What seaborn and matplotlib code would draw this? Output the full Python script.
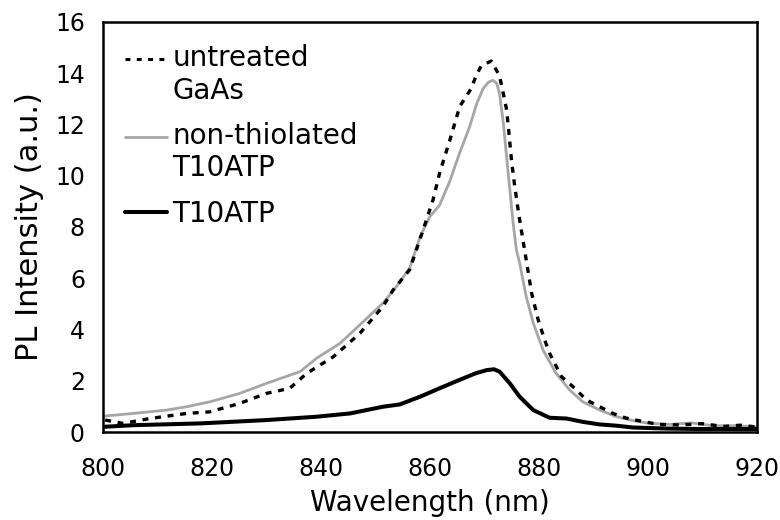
import numpy as np
import pandas as pd
import matplotlib
matplotlib.use("Agg")
import matplotlib.pyplot as plt
from matplotlib.lines import Line2D
from matplotlib.legend_handler import HandlerLine2D
import seaborn as sns

# ---------------- data ----------------
wl_untreated = [800.4, 803.7, 808.6, 815.4, 819.6, 825.1, 830.0, 834.3, 837.4, 842.3,
                847.2, 851.4, 853.3, 856.3, 858.8, 860.6, 861.8, 863.7, 865.5, 867.6,
                868.6, 869.5, 871.3, 872.8, 873.5, 874.1, 874.6, 875.0, 875.6, 876.4,
                877.1, 877.7, 878.7, 879.9, 881.1, 882.0, 884.2, 886.3, 888.8, 891.2,
                893.6, 896.0, 898.5, 902.0, 906.0, 910.0, 914.0, 917.0, 920.0]
pl_untreated = [0.47, 0.34, 0.53, 0.73, 0.79, 1.12, 1.51, 1.71, 2.29, 2.94,
                3.86, 4.90, 5.55, 6.33, 7.90, 9.06, 10.1, 11.4, 12.7, 13.4,
                13.95, 14.3, 14.47, 13.9, 13.2, 12.58, 11.5, 10.6, 9.58, 8.41,
                7.5, 6.72, 5.42, 4.38, 3.59, 3.07, 2.16, 1.77, 1.25, 0.99,
                0.73, 0.55, 0.44, 0.30, 0.28, 0.33, 0.22, 0.27, 0.20]

wl_nonthiol = [800.0, 805.6, 811.7, 815.4, 819.6, 825.1, 830.0, 836.2, 839.2, 843.5,
               847.8, 851.4, 853.9, 856.3, 858.2, 860.0, 861.8, 863.7, 865.5, 867.3,
               868.6, 869.8, 870.8, 871.6, 872.3, 872.8, 873.5, 874.1, 874.7, 875.3,
               875.9, 876.5, 877.7, 879.0, 880.8, 883.2, 885.7, 888.1, 891.2, 894.3,
               897.3, 900.0, 904.0, 908.0, 912.0, 916.0, 920.0]
pl_nonthiol = [0.62, 0.73, 0.86, 0.99, 1.18, 1.51, 1.90, 2.36, 2.88, 3.46,
               4.31, 5.03, 5.68, 6.40, 7.60, 8.40, 8.85, 9.80, 10.9, 11.9,
               12.8, 13.4, 13.65, 13.72, 13.6, 13.2, 12.06, 10.75, 9.45, 8.15,
               7.11, 6.59, 5.29, 4.25, 3.20, 2.29, 1.64, 1.18, 0.86, 0.60,
               0.45, 0.35, 0.30, 0.36, 0.25, 0.25, 0.20]

wl_t10atp = [800.4, 805.6, 817.9, 830.0, 839.2, 845.4, 851.4, 854.5, 858.2, 861.8,
             865.5, 868.5, 870.5, 871.8, 872.8, 874.7, 876.5, 879.0, 882.0, 885.1,
             888.1, 891.2, 894.3, 897.3, 903.4, 910.0, 920.0]
pl_t10atp = [0.21, 0.27, 0.34, 0.47, 0.60, 0.73, 0.99, 1.08, 1.38, 1.71,
             2.04, 2.30, 2.42, 2.45, 2.36, 1.90, 1.38, 0.86, 0.56, 0.53,
             0.40, 0.30, 0.25, 0.18, 0.14, 0.12, 0.12]

labels = ["untreated\nGaAs", "non-thiolated\nT10ATP", "T10ATP"]
x_ticks = [800, 820, 840, 860, 880, 900, 920]
y_ticks = [0, 2, 4, 6, 8, 10, 12, 14, 16]

# ---------------- styling ----------------
sns.set_theme(style="white")
plt.rcParams["font.family"] = ["DejaVu Sans"]
plt.rcParams["text.color"] = "black"
plt.rcParams["axes.labelcolor"] = "black"
plt.rcParams["xtick.color"] = "black"
plt.rcParams["ytick.color"] = "black"

GRAY = "#a6a6a6"
DASH = (0, (1.8, 2.0))

fig = plt.figure(figsize=(7.8, 5.2), dpi=100)
ax = fig.add_axes([0.132, 0.169, 0.838, 0.789])

df_u = pd.DataFrame({"wl": wl_untreated, "pl": pl_untreated})
df_n = pd.DataFrame({"wl": wl_nonthiol, "pl": pl_nonthiol})
df_t = pd.DataFrame({"wl": wl_t10atp, "pl": pl_t10atp})

sns.lineplot(data=df_n, x="wl", y="pl", ax=ax, color=GRAY, lw=2.0,
             sort=False, estimator=None, zorder=2)
sns.lineplot(data=df_u, x="wl", y="pl", ax=ax, color="black", lw=2.4,
             linestyle=DASH, sort=False, estimator=None, zorder=3)
sns.lineplot(data=df_t, x="wl", y="pl", ax=ax, color="black", lw=2.9,
             sort=False, estimator=None, zorder=4)

ax.set_xlim(800, 920)
ax.set_ylim(0, 16)
ax.set_xticks(x_ticks)
ax.set_yticks(y_ticks)
ax.tick_params(axis="both", labelsize=17, length=3, width=0.8,
               color="#555555", direction="out")
ax.tick_params(axis="x", pad=15)
ax.tick_params(axis="y", pad=10)
ax.set_xlabel("Wavelength (nm)", fontsize=20, labelpad=6)
ax.set_ylabel("PL Intensity (a.u.)", fontsize=22, labelpad=8)
for s in ax.spines.values():
    s.set_visible(True)
    s.set_color("black")
    s.set_linewidth(1.8)


class UpHandler(HandlerLine2D):
    def __init__(self, shift=0.0, **kw):
        super().__init__(**kw)
        self.shift = shift

    def create_artists(self, legend, orig_handle, xdescent, ydescent, width,
                       height, fontsize, trans):
        arts = super().create_artists(legend, orig_handle, xdescent, ydescent,
                                      width, height, fontsize, trans)
        for a in arts:
            a.set_ydata(np.asarray(a.get_ydata()) + self.shift * fontsize)
        return arts


h_u = Line2D([], [], color="black", lw=2.2, linestyle=(0, (1.6, 2.1)))
h_n = Line2D([], [], color=GRAY, lw=2.0)
h_t = Line2D([], [], color="black", lw=2.9)
ax.legend([h_u, h_n, h_t], labels, loc="upper left",
          bbox_to_anchor=(0.034, 0.945), frameon=False, fontsize=20,
          handlelength=1.5, handletextpad=0.2, labelspacing=0.62,
          borderaxespad=0, borderpad=0,
          handler_map={h_u: UpHandler(0.6), h_n: UpHandler(0.6)})

fig.savefig("out.png", dpi=100)
